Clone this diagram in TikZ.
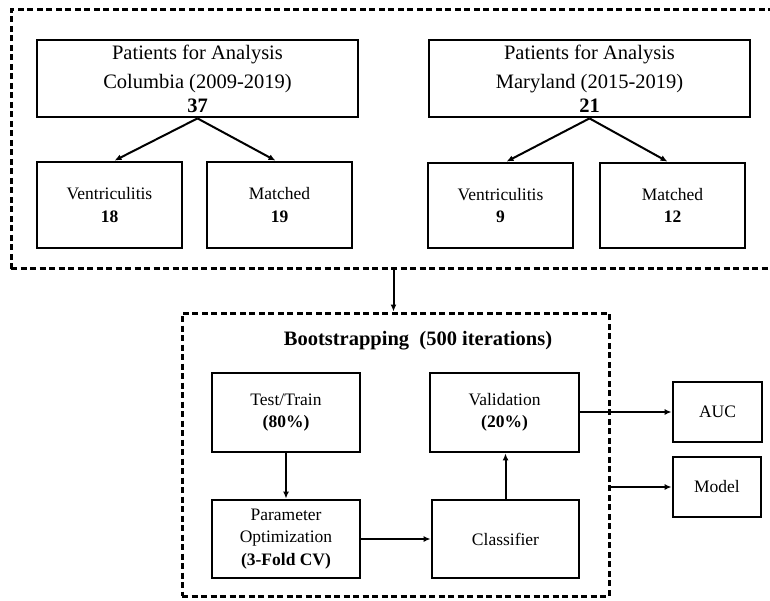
\documentclass[tikz,border=0pt]{standalone}
\usepackage{fontspec}
\setmainfont{Liberation Serif}
\usetikzlibrary{arrows.meta}

\tikzset{
  frame/.style={draw,dash pattern=on 6pt off 3.5pt,line width=3pt,inner sep=0pt},
  box/.style={draw,line width=2.8pt,align=center,inner sep=2pt},
  bigtxt/.style={font=\fontsize{20.5}{29}\selectfont},
  smalltxt/.style={font=\fontsize{17.5}{22.5}\selectfont},
  link/.style={->,line width=2pt}
}

\begin{document}
\begin{tikzpicture}[>={Latex[length=7pt,width=6pt]},x=1pt,y=-1pt]
\useasboundingbox (0,0) rectangle (770,601);
% ---- sites ----
\node[frame,minimum width=765pt,minimum height=259pt] (sites) at (393.5,139.5) {};
\node[box,bigtxt,minimum width=321pt,minimum height=77pt] (colBox) at (197.5,78.5)
  {Patients for Analysis\\Columbia (2009-2019)\\[-5pt]\textbf{37}};
\node[box,smalltxt,minimum width=145pt,minimum height=86pt] (colVen) at (109.5,205)
  {Ventriculitis\\\textbf{18}};
\node[box,smalltxt,minimum width=145pt,minimum height=86pt] (colMat) at (279.5,205)
  {Matched\\\textbf{19}};
\node[box,bigtxt,minimum width=321pt,minimum height=77pt] (marBox) at (589.5,78.5)
  {Patients for Analysis\\Maryland (2015-2019)\\[-5pt]\textbf{21}};
\node[box,smalltxt,minimum width=145pt,minimum height=85pt] (marVen) at (500.5,205.5)
  {Ventriculitis\\\textbf{9}};
\node[box,smalltxt,minimum width=145pt,minimum height=85pt] (marMat) at (672.5,205.5)
  {Matched\\\textbf{12}};
\draw[link] (colBox.south) -- ([xshift=5pt]colVen.north);
\draw[link] (colBox.south) -- ([xshift=-4pt]colMat.north);
\draw[link] (marBox.south) -- ([xshift=6pt]marVen.north);
\draw[link] (marBox.south) -- ([xshift=-5pt]marMat.north);
% ---- bootstrapping ----
\node[frame,minimum width=427pt,minimum height=283pt] (boot) at (395.5,454.5) {};
\node[bigtxt] (bootTitle) at (418,341) {\textbf{Bootstrapping\ \ (500 iterations)}};
\node[box,smalltxt,minimum width=148pt,minimum height=79pt] (train) at (286,412.5)
  {Test/Train\\\textbf{(80\%)}};
\node[box,smalltxt,minimum width=149pt,minimum height=79pt] (valid) at (504.5,412.5)
  {Validation\\\textbf{(20\%)}};
\node[box,smalltxt,minimum width=148pt,minimum height=78pt] (param) at (286,539)
  {Parameter\\Optimization\\\textbf{(3-Fold CV)}};
\node[box,smalltxt,minimum width=147pt,minimum height=78pt] (classif) at (505.5,539)
  {Classifier};
\draw[link] (sites.south) -- (sites.south |- boot.north);
\draw[link] (train) -- (param);
\draw[link] (param) -- (classif);
\draw[link] (classif.north) -- (classif.north |- valid.south);
% ---- outputs ----
\node[box,smalltxt,minimum width=89pt,minimum height=60pt] (auc) at (717.5,412) {AUC};
\node[box,smalltxt,minimum width=88pt,minimum height=60pt] (model) at (717,487) {Model};
\draw[link] (valid.east |- auc) -- (auc.west);
\draw[link] (boot.east |- model) -- (model.west);
\end{tikzpicture}
\end{document}
